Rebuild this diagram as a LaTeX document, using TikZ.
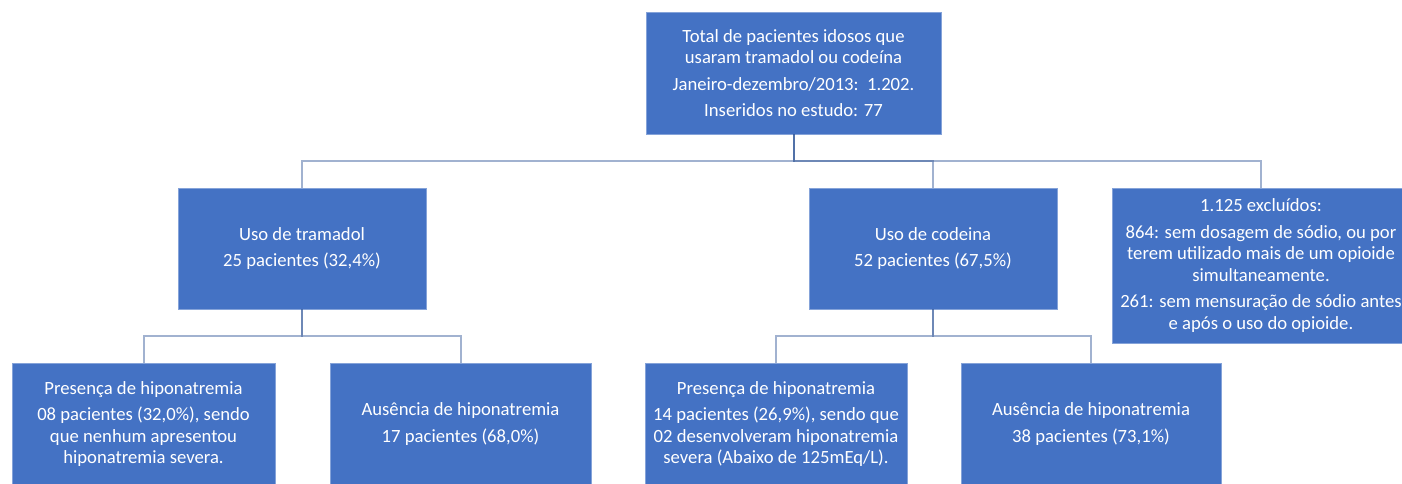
\documentclass[tikz,border=0pt]{standalone}
\usepackage{fontspec}
\setmainfont{Carlito}
\usepackage{tikz}
\definecolor{boxBlue}{RGB}{68,114,196}
\definecolor{lineBlue}{RGB}{47,85,151}
\tikzset{
  box/.style={fill=boxBlue, draw=boxBlue!65!white, line width=0.4pt, text=white,
    align=center, inner sep=0pt, font=\fontsize{14}{16}\selectfont},
  link/.style={draw=lineBlue, line width=1.5pt, draw opacity=0.45}
}

\begin{document}
\begin{tikzpicture}[x=0.75pt, y=-0.75pt]
  \useasboundingbox (0,0) rectangle (1402,483);
  \clip (0,0) rectangle (1402,483);

  \node[box, minimum width=221.25pt, minimum height=91.5pt] (total) at (793.5,73)
    {Total de pacientes idosos que\\usaram tramadol ou codeína\\[4pt]Janeiro-dezembro/2013:\ \ 1.202.\\[4pt]Inseridos no estudo: 77};

  \node[box, minimum width=186pt, minimum height=90.75pt] (tramadol) at (302,248.5)
    {Uso de tramadol\\[4pt]25 pacientes (32,4\%)};
  \node[box, minimum width=186pt, minimum height=90.75pt] (codeina) at (933,248.5)
    {Uso de codeina\\[4pt]52 pacientes (67,5\%)};
  \node[box, minimum width=223.5pt, minimum height=116.25pt] (excluidos) at (1261,265.5)
    {1.125 excluídos:\\[4pt]864: sem dosagem de sódio, ou por\\terem utilizado mais de um opioide\\simultaneamente.\\[4pt]261: sem mensuração de sódio antes\\e após o uso do opioide.};

  \node[box, minimum width=197.25pt, minimum height=91.5pt] (tramSim) at (143.5,424)
    {Presença de hiponatremia\\[4pt]08 pacientes (32,0\%), sendo\\que nenhum apresentou\\hiponatremia severa.};
  \node[box, minimum width=195.75pt, minimum height=91.5pt] (tramNao) at (460.5,424)
    {Ausência de hiponatremia\\[4pt]17 pacientes (68,0\%)};
  \node[box, minimum width=196.5pt, minimum height=91.5pt] (codSim) at (776,424)
    {Presença de hiponatremia\\[4pt]14 pacientes (26,9\%), sendo que\\02 desenvolveram hiponatremia\\severa (Abaixo de 125mEq/L).};
  \node[box, minimum width=195pt, minimum height=91.5pt] (codNao) at (1091,424)
    {Ausência de hiponatremia\\[4pt]38 pacientes (73,1\%)};

  \draw[link] (total.south) -- ++(0,27) -| (tramadol.north);
  \draw[link] (total.south) -- ++(0,27) -| (codeina.north);
  \draw[link] (total.south) -- ++(0,27) -| (excluidos.north);
  \draw[link] (tramadol.south) -- ++(0,27) -| (tramSim.north);
  \draw[link] (tramadol.south) -- ++(0,27) -| (tramNao.north);
  \draw[link] (codeina.south) -- ++(0,27) -| (codSim.north);
  \draw[link] (codeina.south) -- ++(0,27) -| (codNao.north);
\end{tikzpicture}
\end{document}
